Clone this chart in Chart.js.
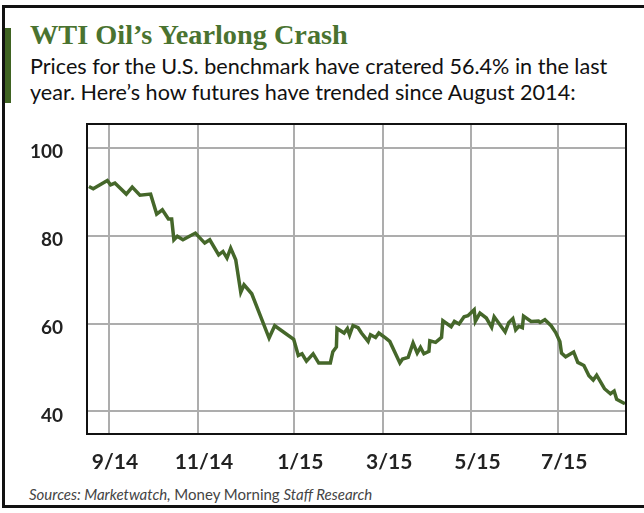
<!DOCTYPE html>
<html>
<head>
<meta charset="utf-8">
<script src="https://cdn.jsdelivr.net/npm/chart.js@4.4.1/dist/chart.umd.min.js"></script>
<style>
  html, body { margin: 0; padding: 0; background: #fff; }
  #page { position: relative; width: 644px; height: 513px; overflow: hidden; background: #fff; }
  #frame { position: absolute; left: 2px; top: 5px; width: 660px; height: 503px; border: 3px solid #111; box-sizing: border-box; }
  #accent { position: absolute; left: 5px; top: 28px; width: 6px; height: 75px; background: #3f6322; }
  #title { position: absolute; left: 30px; top: 19px; font-family: "Liberation Serif", serif; font-weight: bold; font-size: 28.3px; color: #4a7330; white-space: nowrap; }
  #subtitle { position: absolute; left: 30px; top: 53px; font-family: Lato, sans-serif; font-size: 21.6px; line-height: 26px; color: #111; white-space: nowrap; }
  #source { position: absolute; left: 29px; top: 485px; font-family: Lato, sans-serif; font-size: 15px; color: #444; white-space: nowrap; }
  #wrap { position: absolute; left: 0; top: 0; width: 644px; height: 513px; }
</style>
</head>
<body>
<div id="page">
  <div id="frame"></div>
  <div id="accent"></div>
  <div id="title">WTI Oil’s Yearlong Crash</div>
  <div id="subtitle">Prices for the U.S. benchmark have cratered 56.4% in the last<br>year. Here’s how futures have trended since August 2014:</div>
  <div id="source"><i>Sources: Marketwatch,</i> Money Morning <i>Staff Research</i></div>
  <div id="wrap"><canvas id="oilChart"></canvas></div>
</div>
<script>
// days counted from 1 Sep 2014 (as spaced on the original chart)
const days = [
  -13.5, -10.6, -1.1, 1.1, 4.0, 11.7, 15.7, 20.9, 28.1, 32.2,
  36.0, 40.1, 42.3, 43.8, 46.1, 49.9, 58.3, 64.6, 68.0, 74.0,
  76.9, 79.6, 82.1, 85.5, 88.9, 91.1, 96.3, 108.0, 111.8, 124.6,
  127.7, 130.2, 133.2, 137.7, 141.5, 149.3, 151.0, 153.4, 153.8, 158.6,
  160.8, 162.3, 164.6, 168.0, 170.3, 174.8, 176.4, 179.8, 182.0, 186.7,
  189.4, 196.2, 198.0, 201.8, 205.1, 207.9, 210.1, 212.4, 215.8, 216.4,
  220.3, 224.3, 225.2, 230.8, 233.0, 236.1, 239.5, 242.1, 246.3, 247.1,
  250.2, 254.5, 258.1, 259.8, 267.2, 269.6, 272.4, 274.3, 276.4, 278.8,
  279.6, 284.7, 289.7, 290.8, 294.0, 298.2, 301.3, 304.1, 305.2, 308.0,
  313.4, 316.2, 320.3, 323.7, 326.6, 328.9, 334.2, 338.2, 340.7, 342.4,
  348.0
];
const prices = [
  91.25, 90.73, 92.62, 91.64, 92.03, 89.52, 91.12, 89.29, 89.52, 84.97,
  85.94, 83.83, 83.83, 79.11, 79.91, 79.11, 80.64, 78.36, 79.11, 75.69,
  76.45, 74.94, 77.22, 74.56, 67.15, 68.86, 66.81, 56.72, 59.52, 56.45,
  52.73, 53.14, 51.44, 53.10, 51.02, 51.04, 53.60, 54.69, 58.91, 57.86,
  58.88, 57.40, 59.57, 59.07, 57.86, 55.95, 57.47, 56.86, 57.86, 56.72,
  55.95, 51.02, 51.94, 52.30, 55.58, 53.30, 54.58, 53.14, 53.67, 56.10,
  55.72, 56.86, 60.66, 59.29, 60.50, 59.93, 61.57, 61.80, 63.17, 60.55,
  62.41, 61.28, 59.18, 61.57, 58.11, 60.21, 61.16, 58.61, 59.41, 59.07,
  61.73, 60.50, 60.59, 60.27, 60.89, 59.52, 57.97, 55.95, 53.30, 52.46,
  53.55, 51.16, 50.46, 48.13, 47.15, 48.25, 45.17, 44.03, 44.65, 42.76,
  41.75
];
const xTickDays = [0, 60, 125, 185, 244.5, 303];
const xTickLabels = ['9/14', '11/14', '1/15', '3/15', '5/15', '7/15'];
const yTicks = [40, 60, 80, 100];

const points = days.map((d, i) => ({ x: d, y: prices[i] }));

// box round the plot area
const plotBox = {
  id: 'plotBox',
  afterDraw(chart) {
    const a = chart.chartArea;
    const c = chart.ctx;
    c.save();
    c.strokeStyle = '#111';
    c.lineWidth = 2;
    c.strokeRect(a.left, a.top, a.right - a.left, a.bottom - a.top);
    c.restore();
  }
};

const ctx = document.getElementById('oilChart').getContext('2d');
new Chart(ctx, {
  type: 'line',
  data: {
    datasets: [{
      data: points,
      borderColor: '#45672a',
      borderWidth: 3.5,
      pointRadius: 0,
      tension: 0,
      fill: false
    }]
  },
  options: {
    responsive: true,
    maintainAspectRatio: false,
    animation: false,
    layout: { padding: { left: 7, top: 124, right: 18, bottom: 34 } },
    plugins: { legend: { display: false }, tooltip: { enabled: false } },
    scales: {
      x: {
        type: 'linear',
        min: -14.8,
        max: 348.7,
        afterBuildTicks: s => { s.ticks = xTickDays.map(v => ({ value: v })); },
        afterFit: s => { s.height = 45; },
        grid: { color: '#adadad', lineWidth: 2, drawTicks: false },
        border: { display: false },
        ticks: {
          autoSkip: false,
          maxRotation: 0,
          padding: 16,
          labelOffset: 6,
          color: '#222',
          font: { family: 'Lato', size: 21, weight: 'bold' },
          callback: (v) => xTickLabels[xTickDays.indexOf(v)]
        }
      },
      y: {
        min: 34.85,
        max: 105.5,
        afterBuildTicks: s => { s.ticks = yTicks.map(v => ({ value: v })); },
        afterFit: s => { s.width = 80; },
        grid: { color: '#adadad', lineWidth: 2, drawTicks: false },
        border: { display: false },
        ticks: {
          padding: 24,
          labelOffset: 4,
          color: '#222',
          font: { family: 'Lato', size: 19, weight: 'bold' }
        }
      }
    }
  },
  plugins: [plotBox]
});
</script>
</body>
</html>
